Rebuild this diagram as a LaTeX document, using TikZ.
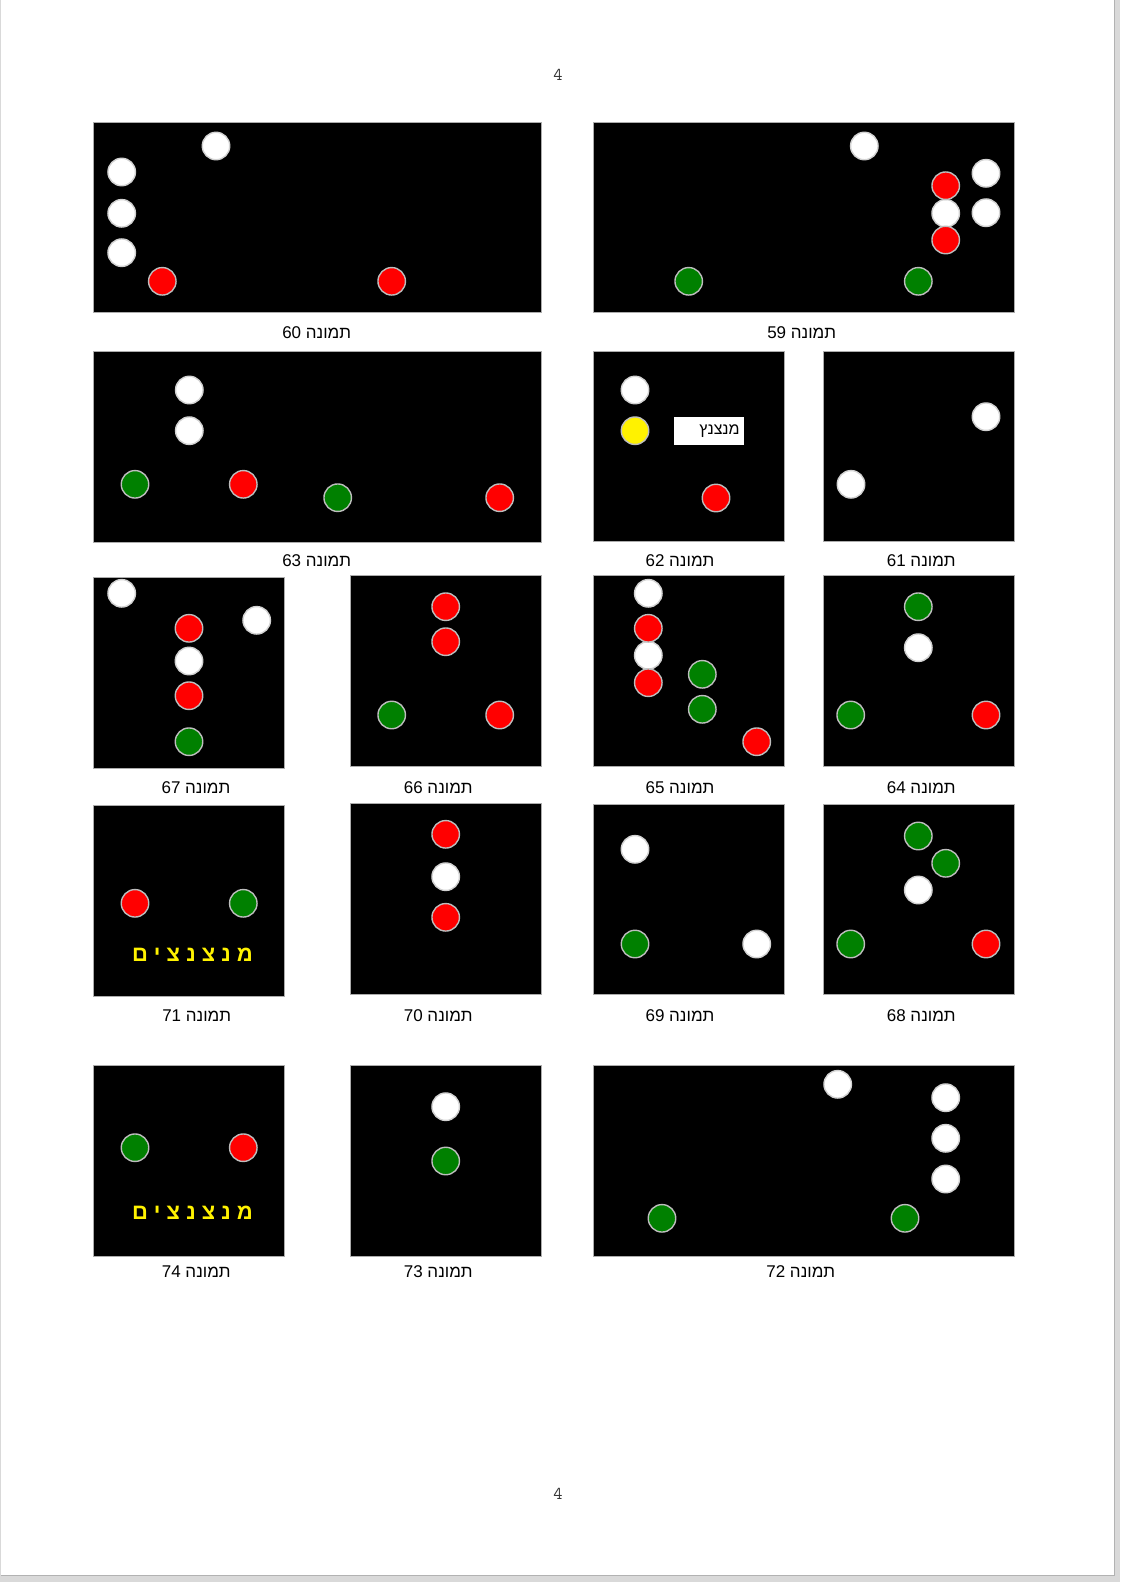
\documentclass[tikz,border=0pt]{standalone}
\usepackage{fontspec}
\newfontfamily\hebreu[Script=Hebrew]{Liberation Sans}
\TeXXeTstate=1

\definecolor{vertfeu}{HTML}{008000}
\definecolor{contour}{HTML}{BDBDBD}

\def\diametre{27.5pt}

\begin{document}
\begin{tikzpicture}[x=1pt,y=-1pt]
\tikzstyle{feu}=[circle,draw=contour,line width=1.4pt,minimum size=\diametre,inner sep=0pt]
\tikzstyle{rouge}=[feu,fill=red]
\tikzstyle{vert}=[feu,fill=vertfeu]
\tikzstyle{jaune}=[feu,fill=yellow]
\tikzstyle{blanc}=[feu,fill=white,draw=gray!35]
\tikzstyle{cadre}=[draw=gray!65,fill=black,line width=0.8pt]
\tikzstyle{legende}=[font=\hebreu\fontsize{17}{20}\selectfont,inner sep=0pt]
\tikzstyle{enseigne}=[font=\hebreu\fontsize{22}{26}\selectfont\bfseries,text=yellow,inner sep=0pt]
\tikzstyle{etiquette}=[fill=white,minimum width=69.7pt,minimum height=28.3pt,text width=61pt,align=right,inner xsep=3pt,font=\hebreu\fontsize{16}{19}\selectfont]
\tikzstyle{numero}=[font=\ttfamily\fontsize{18}{20}\selectfont,text=black!80]

% page
\useasboundingbox (0,0) rectangle (1120,1582);
\fill[gray!30] (0,0) rectangle (1120,1582);
\fill[white] (1.2,0) rectangle (1114,1575);
\draw[gray!60] (1114,0) -- (1114,1575) -- (1.2,1575);
\node[numero] (haut) at (558,75) {4};
\node[numero] (bas) at (558,1494) {4};

% rangee 1
\draw[cadre] (593.3,122.7) rectangle (1014,312.7);
\node[blanc] (f59a) at (864.3,146) {};
\node[blanc] (f59b) at (945.7,213.3) {};
\node[rouge] (f59c) at (945.7,185.7) {};
\node[rouge] (f59d) at (945.7,240) {};
\node[blanc] (f59e) at (986,173.3) {};
\node[blanc] (f59f) at (986,212.7) {};
\node[vert] (f59g) at (688.7,281.3) {};
\node[vert] (f59h) at (918.3,281.3) {};
\node[legende] (l59) at (801.7,333) {\beginR תמונה 59\endR};

\draw[cadre] (93.3,122.7) rectangle (541,312.7);
\node[blanc] (f60a) at (216,146) {};
\node[blanc] (f60b) at (121.7,172) {};
\node[blanc] (f60c) at (121.7,213.3) {};
\node[blanc] (f60d) at (121.7,252.7) {};
\node[rouge] (f60e) at (162.3,281.3) {};
\node[rouge] (f60f) at (391.7,281.3) {};
\node[legende] (l60) at (316.7,333) {\beginR תמונה 60\endR};

% rangee 2
\draw[cadre] (823.3,351.7) rectangle (1014,541.7);
\node[blanc] (f61a) at (986,416.7) {};
\node[blanc] (f61b) at (851,484.3) {};
\node[legende] (l61) at (921.3,561) {\beginR תמונה 61\endR};

\draw[cadre] (593.3,351.7) rectangle (784,541.7);
\node[blanc] (f62a) at (635,390) {};
\node[jaune] (f62b) at (635,430.7) {};
\node[rouge] (f62c) at (716,498) {};
\node[etiquette] (t62) at (709.2,430.8) {\beginR מנצנץ\endR};
\node[legende] (l62) at (680,561) {\beginR תמונה 62\endR};

\draw[cadre] (93.3,351.7) rectangle (541,542);
\node[blanc] (f63a) at (189.3,390) {};
\node[blanc] (f63b) at (189.3,430.7) {};
\node[vert] (f63c) at (135,484.3) {};
\node[rouge] (f63d) at (243.3,484.3) {};
\node[vert] (f63e) at (337.7,497.7) {};
\node[rouge] (f63f) at (499.7,497.7) {};
\node[legende] (l63) at (316.7,561) {\beginR תמונה 63\endR};

% rangee 3
\draw[cadre] (823.3,575.7) rectangle (1014,766.3);
\node[vert] (f64a) at (918.3,606.7) {};
\node[blanc] (f64b) at (918.3,647.7) {};
\node[vert] (f64c) at (850.7,715) {};
\node[rouge] (f64d) at (986,715) {};
\node[legende] (l64) at (921.3,788) {\beginR תמונה 64\endR};

\draw[cadre] (593.3,575.7) rectangle (784,766.3);
\node[blanc] (f65a) at (648.3,593.3) {};
\node[blanc] (f65b) at (648.3,655.3) {};
\node[rouge] (f65c) at (648.3,628.3) {};
\node[rouge] (f65d) at (648.3,682.7) {};
\node[vert] (f65e) at (702.3,674.3) {};
\node[vert] (f65f) at (702.3,709.3) {};
\node[rouge] (f65g) at (756.7,741.7) {};
\node[legende] (l65) at (680,788) {\beginR תמונה 65\endR};

\draw[cadre] (350.7,575.7) rectangle (541,766.3);
\node[rouge] (f66a) at (445.7,606.7) {};
\node[rouge] (f66b) at (445.7,641.7) {};
\node[vert] (f66c) at (391.7,715) {};
\node[rouge] (f66d) at (499.7,715) {};
\node[legende] (l66) at (438.3,788) {\beginR תמונה 66\endR};

\draw[cadre] (93.3,577.7) rectangle (284.3,768.3);
\node[blanc] (f67a) at (121.7,593.3) {};
\node[blanc] (f67b) at (256.7,620.3) {};
\node[blanc] (f67c) at (189,661) {};
\node[rouge] (f67d) at (189,628.3) {};
\node[rouge] (f67e) at (189,695.7) {};
\node[vert] (f67f) at (189,741.7) {};
\node[legende] (l67) at (196,788) {\beginR תמונה 67\endR};

% rangee 4
\draw[cadre] (823.3,804) rectangle (1014,994);
\node[vert] (f68a) at (918.3,836) {};
\node[vert] (f68b) at (945.7,863.3) {};
\node[blanc] (f68c) at (918.3,890) {};
\node[vert] (f68d) at (850.7,944) {};
\node[rouge] (f68e) at (986,944) {};
\node[legende] (l68) at (921.3,1016) {\beginR תמונה 68\endR};

\draw[cadre] (593.3,804) rectangle (784,994);
\node[blanc] (f69a) at (635,849.3) {};
\node[vert] (f69b) at (635,944) {};
\node[blanc] (f69c) at (756.7,944) {};
\node[legende] (l69) at (680,1016) {\beginR תמונה 69\endR};

\draw[cadre] (350,803.3) rectangle (541.3,994);
\node[rouge] (f70a) at (445.7,834.3) {};
\node[blanc] (f70b) at (445.7,876.7) {};
\node[rouge] (f70c) at (445.7,917.3) {};
\node[legende] (l70) at (438.3,1016) {\beginR תמונה 70\endR};

\draw[cadre] (93.3,805) rectangle (284.7,996.7);
\node[rouge] (f71a) at (135,903.3) {};
\node[vert] (f71b) at (243.3,903.3) {};
\node[enseigne] (t71) at (192.5,954.3) {\beginR מ נ צ נ צ י ם\endR};
\node[legende] (l71) at (196.7,1016) {\beginR תמונה 71\endR};

% rangee 5
\draw[cadre] (593.3,1065.7) rectangle (1014,1256.7);
\node[blanc] (f72a) at (837.7,1084.3) {};
\node[blanc] (f72b) at (945.7,1097.7) {};
\node[blanc] (f72c) at (945.7,1138.3) {};
\node[blanc] (f72d) at (945.7,1179) {};
\node[vert] (f72e) at (662,1218.3) {};
\node[vert] (f72f) at (905,1218.3) {};
\node[legende] (l72) at (800.8,1272) {\beginR תמונה 72\endR};

\draw[cadre] (350.7,1065.7) rectangle (541,1256.7);
\node[blanc] (f73a) at (445.7,1106.7) {};
\node[vert] (f73b) at (445.7,1161) {};
\node[legende] (l73) at (438.3,1272) {\beginR תמונה 73\endR};

\draw[cadre] (93.3,1065.7) rectangle (284.3,1256.7);
\node[vert] (f74a) at (135,1147.7) {};
\node[rouge] (f74b) at (243.3,1147.7) {};
\node[enseigne] (t74) at (192.5,1212.3) {\beginR מ נ צ נ צ י ם\endR};
\node[legende] (l74) at (196.3,1272) {\beginR תמונה 74\endR};

\end{tikzpicture}
\end{document}
